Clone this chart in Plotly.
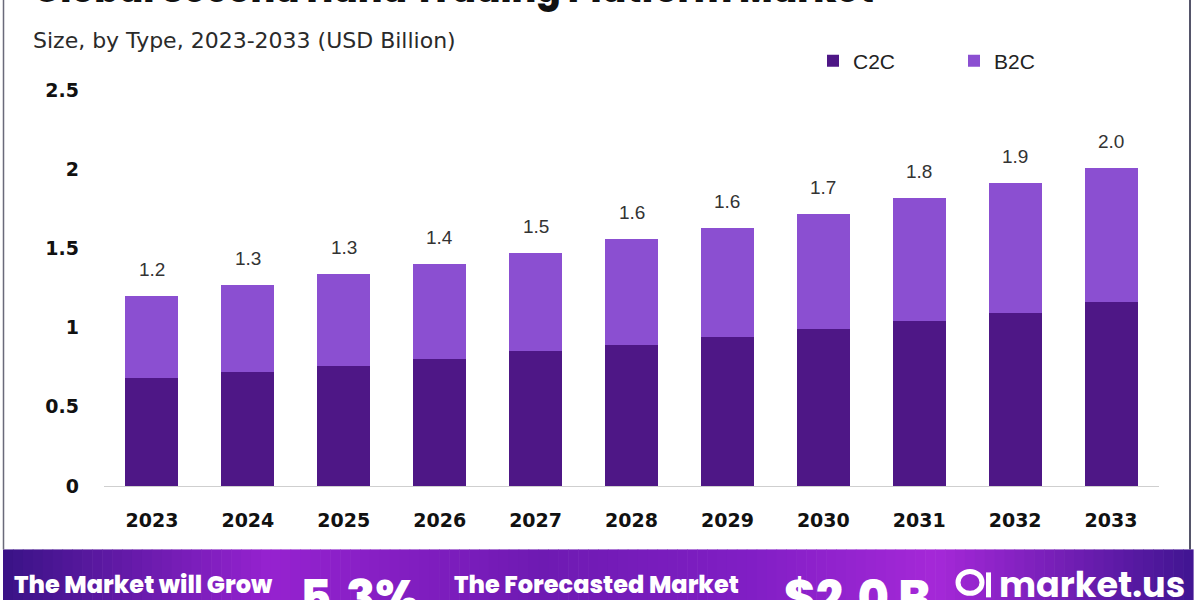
import plotly.graph_objects as go

years = ["2023", "2024", "2025", "2026", "2027", "2028", "2029", "2030", "2031", "2032", "2033"]
c2c = [0.68, 0.72, 0.76, 0.80, 0.85, 0.89, 0.94, 0.99, 1.04, 1.09, 1.16]
b2c = [0.52, 0.55, 0.58, 0.60, 0.62, 0.67, 0.69, 0.73, 0.78, 0.82, 0.85]
total_labels = ["1.2", "1.3", "1.3", "1.4", "1.5", "1.6", "1.6", "1.7", "1.8", "1.9", "2.0"]
y_ticks = [0, 0.5, 1, 1.5, 2, 2.5]
y_tick_text = ["0", "0.5", "1", "1.5", "2", "2.5"]

W, H = 1200, 600
# plot area in pixels
SL, SR, ST, SB = 104, 1159, 90, 486.5


def px(sx):
    return (sx - SL) / (SR - SL)


def py(sy):
    return (SB - sy) / (SB - ST)


C2C_COLOR = "#4E1786"
B2C_COLOR = "#8B4FD1"

fig = go.Figure()
fig.add_trace(go.Bar(x=years, y=c2c, name="C2C", marker=dict(color=C2C_COLOR, line=dict(width=0))))
fig.add_trace(go.Bar(x=years, y=b2c, name="B2C", marker=dict(color=B2C_COLOR, line=dict(width=0))))

totals = [a + b for a, b in zip(c2c, b2c)]
annotations = []
for i, (tot, lab) in enumerate(zip(totals, total_labels)):
    annotations.append(dict(x=i, y=tot, xref="x", yref="y", text=lab, showarrow=False,
                            yanchor="bottom", yshift=14,
                            font=dict(family="Liberation Sans, Arial", size=19, color="#333333")))

# Title (cut off at the top) and subtitle
annotations.append(dict(x=px(31), y=py(-11), xref="paper", yref="paper", xanchor="left", yanchor="middle",
                        text="Global Second Hand Trading Platform Market", showarrow=False,
                        font=dict(family="Poppins, Open Sans", size=36, color="#111111", weight=800)))
annotations.append(dict(x=px(31), y=py(40), xref="paper", yref="paper", xanchor="left", yanchor="middle",
                        text="Size, by Type, 2023-2033 (USD Billion)", showarrow=False,
                        font=dict(family="DejaVu Sans", size=22, color="#2a2a2a")))

# Banner texts
banner_font = "Poppins, Open Sans"
banner = [
    dict(x=px(12), y=py(585), text="The Market will Grow",
         font=dict(family=banner_font, size=24, color="white", weight=800)),
    dict(x=px(298), y=py(598), text="5.3%",
         font=dict(family=banner_font, size=48, color="white", weight=800)),
    dict(x=px(452), y=py(585), text="The Forecasted Market",
         font=dict(family=banner_font, size=24, color="white", weight=800)),
    dict(x=px(782), y=py(598), text="$2.0 B",
         font=dict(family=banner_font, size=48, color="white", weight=800)),
    dict(x=px(997), y=py(585), text="market.us",
         font=dict(family=banner_font, size=35, color="white", weight=700)),
]
for a in banner:
    a.update(xref="paper", yref="paper", xanchor="left", yanchor="middle", showarrow=False)
annotations += banner

shapes = []
# gradient banner made of thin strips
stops = [(0.0, (59, 19, 135)), (0.22, (150, 34, 208)), (0.45, (110, 26, 178)),
         (0.62, (128, 30, 196)), (0.78, (165, 40, 216)), (1.0, (62, 20, 144))]


def color_at(t):
    for (t0, c0), (t1, c1) in zip(stops[:-1], stops[1:]):
        if t0 <= t <= t1:
            f = (t - t0) / (t1 - t0)
            return "rgb(%d,%d,%d)" % tuple(round(c0[i] + f * (c1[i] - c0[i])) for i in range(3))
    return "rgb(%d,%d,%d)" % stops[-1][1]


n = 120
x0b, x1b = 3, 1193
for i in range(n):
    xa = x0b + (x1b - x0b) * i / n
    xb = x0b + (x1b - x0b) * (i + 1) / n + 0.6
    shapes.append(dict(type="rect", xref="paper", yref="paper", x0=px(xa), x1=px(xb), y0=py(550), y1=py(605),
                       fillcolor=color_at(i / n), line=dict(width=0), layer="below"))
# logo icon
shapes.append(dict(type="circle", xref="paper", yref="paper", x0=px(958), x1=px(982), y0=py(594), y1=py(572),
                   line=dict(color="white", width=5)))
shapes.append(dict(type="rect", xref="paper", yref="paper", x0=px(986), x1=px(991), y0=py(598), y1=py(573),
                   fillcolor="white", line=dict(width=0)))
# frame lines
shapes.append(dict(type="line", xref="paper", yref="paper", x0=px(3.5), x1=px(3.5), y0=py(0), y1=py(550),
                   line=dict(color="#6a6a7a", width=1.5)))
shapes.append(dict(type="line", xref="paper", yref="paper", x0=px(1190), x1=px(1190), y0=py(0), y1=py(550),
                   line=dict(color="#55556a", width=2)))

fig.update_layout(
    width=W, height=H, autosize=False,
    margin=dict(l=SL, r=W - SR, t=ST, b=H - SB, pad=0),
    barmode="stack", bargap=0.447,
    plot_bgcolor="white", paper_bgcolor="white",
    showlegend=True,
    legend=dict(orientation="h", x=px(813), y=py(61), xanchor="left", yanchor="middle",
                traceorder="normal",
                entrywidth=96, entrywidthmode="pixels", itemsizing="constant",
                font=dict(family="Liberation Sans, Arial", size=21, color="#222222"),
                bgcolor="rgba(0,0,0,0)"),
    annotations=annotations,
    shapes=shapes,
)
fig.update_xaxes(type="category", range=[-0.5, len(years) - 0.5], showgrid=False, showline=True,
                 linecolor="#cfcfcf", linewidth=1, ticks="", ticklabelstandoff=17, automargin=False,
                 tickfont=dict(family="DejaVu Sans", size=19, color="#111111", weight="bold"))
fig.update_yaxes(range=[0, 2.5], tickvals=y_ticks, ticktext=y_tick_text, showgrid=False, zeroline=False,
                 showline=False, ticks="", ticklabelstandoff=24, automargin=False,
                 tickfont=dict(family="DejaVu Sans", size=19, color="#111111", weight="bold"))

fig.write_html("out.html", config={"displayModeBar": False},
               post_script="document.body.style.margin='0';document.body.style.overflow='hidden';")
